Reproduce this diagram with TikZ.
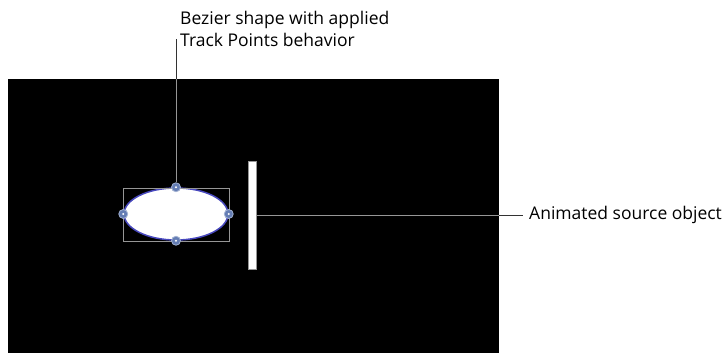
\documentclass[tikz,border=0pt]{standalone}
\usepackage{fontspec}
\setmainfont{Open Sans}
\usepackage{tikz}
\usetikzlibrary{positioning,shapes.geometric}
\definecolor{pathblue}{RGB}{72,72,190}
\definecolor{handleblue}{RGB}{100,125,180}
\definecolor{leadgray}{RGB}{150,150,150}

\begin{document}
\begin{tikzpicture}[
  x=1pt,y=-1pt,
  screen/.style={fill=black,draw=none},
  bezier/.style={ellipse,draw=pathblue,line width=1.5pt,fill=white,minimum width=104pt,minimum height=52pt,inner sep=0pt},
  handle/.style={circle,draw=handleblue!60!white,line width=0.8pt,fill=handleblue,minimum size=9pt,inner sep=0pt,path picture={\fill[white] (path picture bounding box.center) circle (1.2pt);}},
  label/.style={font=\fontsize{17.5}{22}\selectfont,align=left,inner sep=0pt},
  lead/.style={line width=0.8pt,black!80},
  leadin/.style={line width=1pt,leadgray}
]
\useasboundingbox (0,0) rectangle (728,353);
\fill[screen] (8,79) rectangle (499,353);
\node[bezier] (shape) at (176,214) {};
\draw[leadgray,line width=1pt] (123,188) rectangle (229,241);
\node[handle] (htop) at (shape.north) {};
\node[handle] (hbot) at (shape.south) {};
\node[handle] (hleft) at (shape.west) {};
\node[handle] (hright) at (shape.east) {};
\node[draw=leadgray,fill=white,minimum width=8pt,minimum height=108pt,inner sep=0pt] (source) at (252.5,215) {};
\node[label,anchor=north west] (shapetext) at (180,11) {Bezier shape with applied\\Track Points behavior};
\node[label,anchor=west] (sourcetext) at (529,215) {Animated source object};
\coordinate (topedge) at (176,79);
\coordinate (topend) at (176,39);
\coordinate (rightedge) at (499,215);
\coordinate (rightend) at (523,215);
\draw[leadin] (htop) -- (topedge);
\draw[lead] (topedge) -- (topend);
\draw[leadin] (source.east |- rightedge) -- (rightedge);
\draw[lead] (rightedge) -- (rightend);
\end{tikzpicture}
\end{document}
